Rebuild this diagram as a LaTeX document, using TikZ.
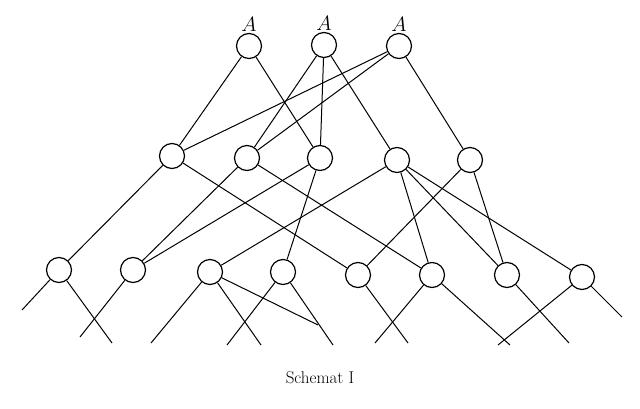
\documentclass[tikz,border=0pt]{standalone}
\begin{document}
\begin{tikzpicture}[x=1pt,y=-1pt,
  v/.style={circle,draw,line width=1.2pt,minimum size=25pt,inner sep=0pt},
  e/.style={line width=1pt}]
\useasboundingbox (0,0) rectangle (640,409);
\node[v] (A1) at (249,46) {};
\node[v] (A2) at (324,45) {};
\node[v] (A3) at (399,46) {};
\foreach \n in {A1,A2,A3} \node[font=\fontsize{22}{24}\selectfont,above=-2pt] (L\n) at (\n.north) {$A$};
\node[v] (M1) at (172,156) {};
\node[v] (M2) at (247,158) {};
\node[v] (M3) at (320,158) {};
\node[v] (M4) at (397,160) {};
\node[v] (M5) at (470,160) {};
\node[v] (B1) at (59,270) {};
\node[v] (B2) at (133,270) {};
\node[v] (B3) at (210,272) {};
\node[v] (B4) at (283,272) {};
\node[v] (B5) at (358,275) {};
\node[v] (B6) at (432,275) {};
\node[v] (B7) at (507,275) {};
\node[v] (B8) at (582,277) {};
\foreach \a/\b in {A1/M1,A1/M3,A2/M2,A2/M3,A2/M4,A3/M1,A3/M2,A3/M5,
  M1/B1,M1/B5,M2/B2,M2/B6,M3/B2,M3/B4,M4/B3,M4/B6,M4/B7,M4/B8,M5/B5,M5/B7}
  \draw[e] (\a) -- (\b);
\coordinate (b1l) at (22,310); \coordinate (b1r) at (112,343);
\coordinate (b2l) at (80,337);
\coordinate (b3l) at (151,343); \coordinate (b3r) at (261,345);
\coordinate (b4l) at (227,345); \coordinate (b4r) at (333,345);
\coordinate (b4m) at (318,325);
\coordinate (b5r) at (408,343);
\coordinate (b6l) at (375,343); \coordinate (b6r) at (510,345);
\coordinate (b7r) at (569,343);
\coordinate (b8l) at (498,345); \coordinate (b8r) at (622,317);
\foreach \a/\b in {B1/b1l,B1/b1r,B2/b2l,B3/b3l,B3/b3r,B3/b4m,B4/b4l,B4/b4r,
  B5/b5r,B6/b6l,B6/b6r,B7/b7r,B8/b8l,B8/b8r}
  \draw[e] (\a) -- (\b);
\node[font=\fontsize{17}{20}\selectfont] (cap) at (320,378) {Schemat I};
\end{tikzpicture}
\end{document}
